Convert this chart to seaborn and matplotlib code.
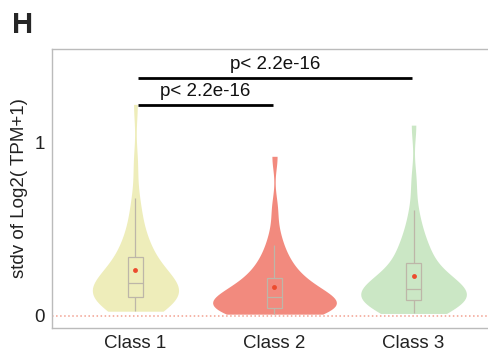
import pandas as pd
import matplotlib
matplotlib.use("Agg")
import matplotlib.pyplot as plt
import seaborn as sns

# values (quantile-style samples per class)
classes = ["Class 1", "Class 2", "Class 3"]

class1_values = [0.025, 0.04, 0.05, 0.06, 0.068, 0.075, 0.082, 0.09, 0.096, 0.102,
                 0.108, 0.115, 0.122, 0.129, 0.137, 0.145, 0.153, 0.162, 0.172, 0.182,
                 0.19, 0.20, 0.21, 0.22, 0.232, 0.245, 0.26, 0.28, 0.30, 0.33,
                 0.355, 0.375, 0.40, 0.43, 0.47, 0.53, 0.60, 0.68, 0.88, 1.22]
class2_values = [0.008, 0.014, 0.019, 0.024, 0.028, 0.032, 0.035, 0.038, 0.041, 0.043,
                 0.046, 0.05, 0.054, 0.058, 0.063, 0.068, 0.074, 0.08, 0.087, 0.102,
                 0.11, 0.118, 0.127, 0.136, 0.146, 0.157, 0.168, 0.18, 0.194, 0.21,
                 0.228, 0.248, 0.27, 0.295, 0.325, 0.36, 0.41, 0.48, 0.62, 0.92]
class3_values = [0.012, 0.025, 0.036, 0.045, 0.053, 0.06, 0.067, 0.074, 0.081, 0.087,
                 0.093, 0.099, 0.105, 0.111, 0.117, 0.124, 0.131, 0.138, 0.145, 0.151,
                 0.159, 0.167, 0.176, 0.186, 0.197, 0.209, 0.222, 0.237, 0.255, 0.295,
                 0.32, 0.34, 0.365, 0.39, 0.425, 0.47, 0.53, 0.61, 0.78, 1.10]

colors = {"Class 1": "#EEEDBA", "Class 2": "#F28A7E", "Class 3": "#CBE7C5"}
violin_widths = {"Class 1": 0.62, "Class 2": 0.89, "Class 3": 0.76}

# significance brackets: (x start, x end, y, label)
brackets = [(0.02, 0.99, 1.217, "p< 2.2e-16"),
            (0.02, 1.99, 1.373, "p< 2.2e-16")]

df = pd.DataFrame({
    "group": ["Class 1"] * len(class1_values) + ["Class 2"] * len(class2_values)
             + ["Class 3"] * len(class3_values),
    "value": class1_values + class2_values + class3_values,
})

sns.set_style("white")
plt.rcParams["font.family"] = ["Liberation Sans", "DejaVu Sans"]

fig = plt.figure(figsize=(4.89, 3.51), dpi=100)
ax = fig.add_axes([52 / 489, 23 / 351, 445 / 489, 279 / 351])

for cls in classes:
    sns.violinplot(data=df[df["group"] == cls], x="group", y="value", order=classes,
                   color=colors[cls], width=violin_widths[cls], cut=0, inner=None,
                   linewidth=0, bw_adjust=0.85, density_norm="width", saturation=1, ax=ax)

sns.boxplot(data=df, x="group", y="value", hue="group", order=classes, palette=colors,
            width=0.11, showfliers=False, showcaps=False, showmeans=True,
            meanprops=dict(marker="o", markerfacecolor="#EC4B2E", markeredgecolor="none",
                           markersize=3.5),
            linecolor="#BDB6A8", linewidth=0.9, saturation=1, legend=False, ax=ax)

ax.axhline(0, color="#F2A090", linestyle=":", linewidth=1.1, zorder=0)

for x0, x1, y, label in brackets:
    ax.plot([x0, x1], [y, y], color="black", linewidth=2, solid_capstyle="butt")
    ax.text((x0 + x1) / 2, y + 0.077, label, ha="center", va="center", fontsize=13.5,
            color="#111111")

ax.set_xlim(-0.6, 2.6)
ax.set_ylim(-0.072, 1.54)
ax.set_yticks([0, 1])
ax.set_yticklabels(["0", "1"])
ax.set_xlabel("")
ax.set_ylabel("stdv of Log2( TPM+1)", fontsize=13.5, color="#222222", labelpad=5)
ax.tick_params(axis="both", length=0, labelsize=13.5, labelcolor="#222222", pad=5)

for side in ["left", "top", "bottom"]:
    ax.spines[side].set_color("#BBBBBB")
    ax.spines[side].set_linewidth(1)
ax.spines["right"].set_visible(False)

fig.text(0.024, 0.968, "H", ha="left", va="top", fontsize=21, fontweight="bold")

fig.savefig("out.png", dpi=100)
